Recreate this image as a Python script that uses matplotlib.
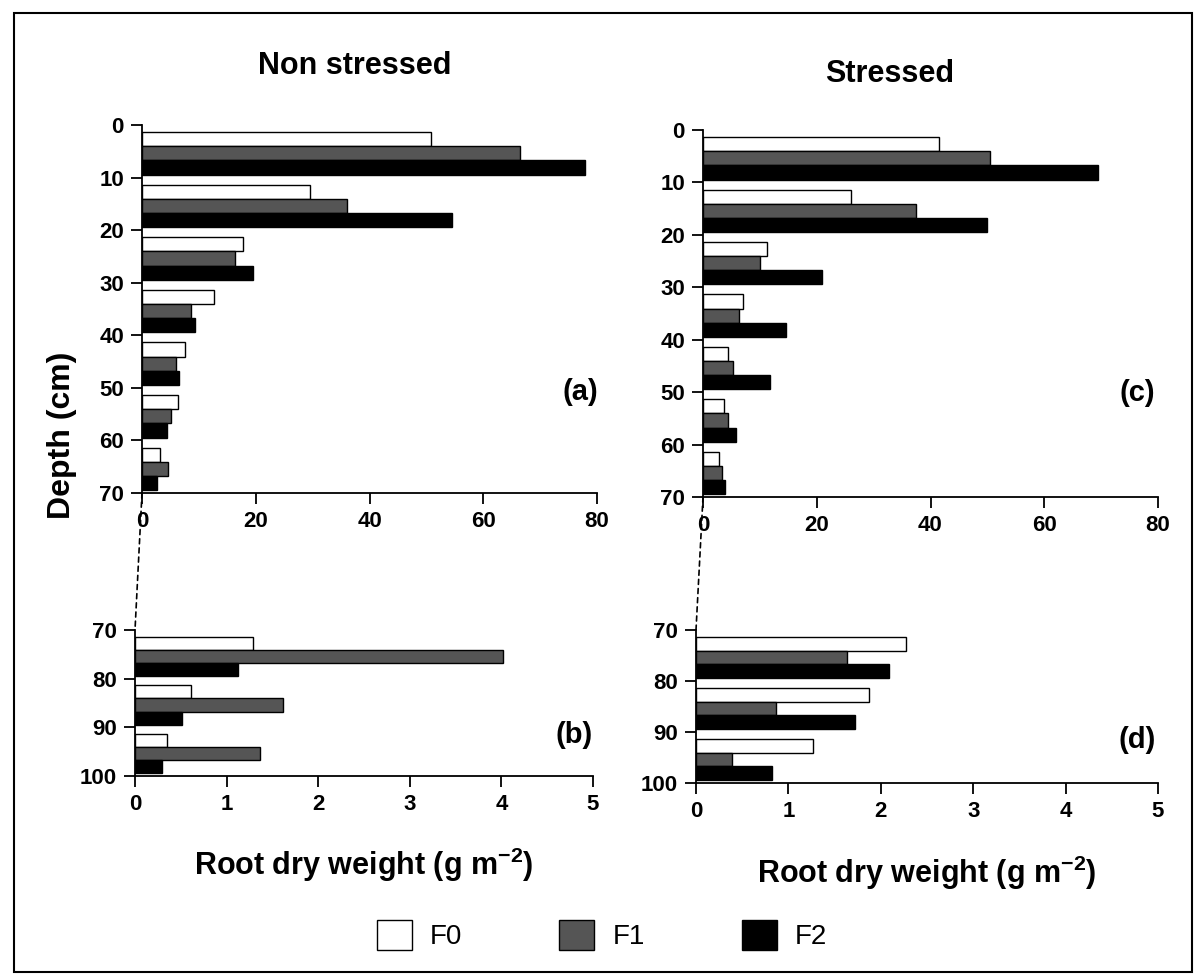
import matplotlib.pyplot as plt
import numpy as np
from matplotlib.patches import ConnectionPatch, Rectangle

plt.rcParams["font.family"] = ["Liberation Sans", "DejaVu Sans"]
plt.rcParams["mathtext.fontset"] = "custom"
plt.rcParams["mathtext.rm"] = "Liberation Sans"
plt.rcParams["mathtext.bf"] = "Liberation Sans:bold"

# depth bins (top of each 10 cm layer)
depth_top = [0, 10, 20, 30, 40, 50, 60]
depth_bottom = [70, 80, 90]

# non stressed, 0-70 cm
ns_f0 = [50.8, 29.5, 17.7, 12.6, 7.6, 6.4, 3.2]
ns_f1 = [66.5, 36.0, 16.3, 8.7, 6.0, 5.1, 4.6]
ns_f2 = [77.9, 54.5, 19.5, 9.4, 6.5, 4.4, 2.6]
# stressed, 0-70 cm
st_f0 = [41.5, 26.0, 11.2, 7.0, 4.4, 3.7, 2.9]
st_f1 = [50.5, 37.5, 10.0, 6.4, 5.3, 4.4, 3.4]
st_f2 = [69.5, 50.0, 21.0, 14.6, 11.7, 5.8, 3.8]
# non stressed, 70-100 cm
nsb_f0 = [1.29, 0.61, 0.35]
nsb_f1 = [4.02, 1.62, 1.37]
nsb_f2 = [1.12, 0.51, 0.30]
# stressed, 70-100 cm
stb_f0 = [2.27, 1.87, 1.27]
stb_f1 = [1.63, 0.87, 0.39]
stb_f2 = [2.09, 1.72, 0.82]

labels = ["F0", "F1", "F2"]
colors = ["white", "#555555", "black"]
offsets = [2.7, 5.4, 8.1]
bar_h = 2.7

W, H = 1194, 980
fig = plt.figure(figsize=(W / 100, H / 100), dpi=100)


def box(l, t, r, b):
    return [l / W, 1 - b / H, (r - l) / W, (b - t) / H]


ax_a = fig.add_axes(box(142, 125, 597, 493))
ax_c = fig.add_axes(box(703, 130, 1158, 497))
ax_b = fig.add_axes(box(135, 630, 593, 776))
ax_d = fig.add_axes(box(696, 630, 1158, 783))


def draw(ax, depths, series, xmax, ylim, xticks, yticks):
    d = np.array(depths)
    handles = []
    for vals, off, col, lab in zip(series, offsets, colors, labels):
        h = ax.barh(d + off, vals, height=bar_h, color=col, edgecolor="black",
                    linewidth=1.0, label=lab)
        handles.append(h)
    ax.set_xlim(0, xmax)
    ax.set_ylim(*ylim)
    ax.set_xticks(xticks)
    ax.set_yticks(yticks)
    for s in ["top", "right"]:
        ax.spines[s].set_visible(False)
    for s in ["left", "bottom"]:
        ax.spines[s].set_linewidth(1.3)
    ax.tick_params(direction="out", length=8, width=1.3, labelsize=16, pad=5)
    for t in ax.get_xticklabels() + ax.get_yticklabels():
        t.set_fontweight("bold")
    return handles


handles = draw(ax_a, depth_top, [ns_f0, ns_f1, ns_f2], 80, (70, 0),
               [0, 20, 40, 60, 80], range(0, 71, 10))
draw(ax_c, depth_top, [st_f0, st_f1, st_f2], 80, (70, 0),
     [0, 20, 40, 60, 80], range(0, 71, 10))
draw(ax_b, depth_bottom, [nsb_f0, nsb_f1, nsb_f2], 5, (100, 70),
     range(0, 6), range(70, 101, 10))
draw(ax_d, depth_bottom, [stb_f0, stb_f1, stb_f2], 5, (100, 70),
     range(0, 6), range(70, 101, 10))

# dashed link from top panel to bottom panel at depth 70
for top, bot in [(ax_a, ax_b), (ax_c, ax_d)]:
    con = ConnectionPatch(xyA=(0, 70), coordsA=top.transData,
                          xyB=(0, 70), coordsB=bot.transData,
                          linestyle=(0, (3, 2.5)), color="black", linewidth=1.2)
    fig.add_artist(con)

panel_pos = {"(a)": (580, 392), "(c)": (1137, 393),
             "(b)": (574, 735), "(d)": (1137, 740)}
for lab, (px, py) in panel_pos.items():
    fig.text(px / W, 1 - py / H, lab, ha="center", va="center",
             fontsize=21, fontweight="bold")

fig.text(355 / W, 1 - 66 / H, "Non stressed", ha="center", va="center",
         fontsize=22, fontweight="bold")
fig.text(890 / W, 1 - 74 / H, "Stressed", ha="center", va="center",
         fontsize=22, fontweight="bold")
fig.text(62 / W, 1 - 435 / H, "Depth (cm)", rotation=90, ha="center",
         va="center", fontsize=23, fontweight="bold")
xlab = r"Root dry weight (g m$^{\mathbf{-2}}$)"
fig.text(364 / W, 1 - 865 / H, xlab, ha="center", va="center",
         fontsize=22, fontweight="bold")
fig.text(927 / W, 1 - 873 / H, xlab, ha="center", va="center",
         fontsize=22, fontweight="bold")

fig.legend(handles=handles, labels=labels, loc="center",
           bbox_to_anchor=(602 / W, 1 - 935 / H), ncol=3, frameon=False,
           fontsize=20, handlelength=1.26, handleheight=1.3,
           handletextpad=0.65, columnspacing=3.5)

# frame around the whole figure
fig.patches.append(Rectangle((14 / W, 1 - 972 / H), 1178 / W, 959 / H,
                             transform=fig.transFigure, fill=False,
                             edgecolor="black", linewidth=1.5))

fig.savefig("out.png", dpi=100)
